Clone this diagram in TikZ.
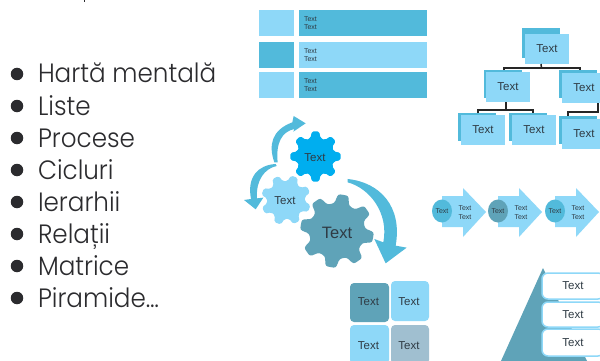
\documentclass[tikz,border=0pt]{standalone}
\usepackage{fontspec}
\setmainfont{Liberation Sans}
\newfontfamily\listfont[UprightFont=* Light,FakeStretch=0.93]{Poppins}
\usetikzlibrary{calc,shapes.geometric}
\definecolor{lightb}{HTML}{8ED8F8}
\definecolor{midb}{HTML}{52BADB}
\definecolor{darkb}{HTML}{5FA3B8}
\definecolor{vivid}{HTML}{00AEEF}
\definecolor{greyb}{HTML}{A0BFD0}
\definecolor{ink}{HTML}{2F3B44}
\definecolor{listink}{HTML}{2B2B2E}
\newcommand{\gearshape}[7]{%
  \begin{scope}[shift={(#1,#2)}]
    \pgfmathsetmacro{\gst}{360/#5}
    \pgfmathtruncatemacro{\glast}{#5-1}
    \fill[rounded corners=1.7pt,#7] (#6-.5*\gst:#4)
      \foreach \i in {0,...,\glast}{
        -- (#6+\i*\gst-.34*\gst:#4)
        -- (#6+\i*\gst-.18*\gst:#3)
        -- (#6+\i*\gst+.18*\gst:#3)
        -- (#6+\i*\gst+.34*\gst:#4)
      } -- cycle;
  \end{scope}}
\tikzset{
  x=1pt,y=-1pt,
  every node/.style={inner sep=0pt,outer sep=0pt,text=ink,font=\fontsize{11.5}{11.5}\selectfont},
  box/.style 2 args={minimum width=#1,minimum height=#2,anchor=north west},
  listlabel/.style={anchor=base west,text=listink,font=\listfont\fontsize{26.5}{26.5}\selectfont},
  bullet/.style={circle,fill=listink,minimum size=12.5pt},
  two/.style={align=left,anchor=west,font=\fontsize{7}{8}\selectfont},
  proc/.style={align=center,font=\fontsize{7}{8.5}\selectfont},
  tie/.style={draw=black!85,line width=1.5pt},
  curve/.style={fill=midb},
  pill/.style={draw=lightb,line width=1.5pt,fill=white,rounded corners=6pt,minimum width=62pt,anchor=north west},
  cell/.style={rounded corners=4pt,minimum width=39pt,anchor=north west},
}
\begin{document}
\begin{tikzpicture}
\useasboundingbox (0,0) rectangle (600,361);
\clip (0,0) rectangle (600,361);
\fill[white] (0,0) rectangle (600,361);
% clipped descender at the top edge
\fill[listink] (84.4,0) rectangle (85.4,1.8);
% bullet list
\foreach \yy/\lab [count=\n] in {74/Hartă mentală,106/Liste,138/Procese,170/Cicluri,202/Ierarhii,234/Relații,266/Matrice,298/Piramide…}{
  \node[bullet] (b\n) at (17,\yy) {};
  \node[listlabel] (t\n) at (38,\yy+9) {\lab};
}
% list blocks
\foreach \yy/\ca/\cb [count=\n] in {10/lightb/midb,42/midb/lightb,72/lightb/midb}{
  \node[box={35pt}{26pt},fill=\ca] (la\n) at (259,\yy) {};
  \node[box={128pt}{26pt},fill=\cb] (lb\n) at (299,\yy) {};
  \node[two] at (304,\yy+13) {Text\\Text};
}
% hierarchy: back plates
\node[box={38pt}{30pt},fill=midb] (r0) at (522,28) {};
\foreach \nm/\xx/\yy in {a/484/70,b/559/70,c/458/113,d/509/113,e/559/116}{
  \node[box={38pt}{28pt},fill=midb] (\nm0) at (\xx,\yy) {};
}
% hierarchy: front plates
\node[box={44pt}{30pt},fill=lightb] (r1) at (525,34) {Text};
\node[box={44pt}{30pt},fill=lightb] (a1) at (486,72) {Text};
\node[box={44pt}{30pt},fill=lightb] (b1) at (562,73) {Text};
\node[box={44pt}{30pt},fill=lightb] (c1) at (461,115) {Text};
\node[box={44pt}{30pt},fill=lightb] (d1) at (512,115) {Text};
\node[box={44pt}{30pt},fill=lightb] (e1) at (562,119) {Text};
% hierarchy connectors
\coordinate (rbar) at (541.5,68);
\draw[tie] (r0.south |- r1.south) -- (rbar);
\draw[tie] ([xshift=1pt]a0.north) |- (rbar) -| ([xshift=2pt]b0.north);
\coordinate (abar) at (506,110);
\draw[tie,line width=1.8pt] (abar |- a1.south) -- (abar);
\draw[tie] ([xshift=1pt]c0.north) |- (abar) -| ([xshift=5pt]d0.north);
\coordinate (ebar) at (598,112);
\draw[tie,line width=2.5pt] (ebar |- b1.south) -- (ebar) -| ([xshift=-10pt]e0.north);
% curved arrows
\begin{scope}[shift={(235,105)},scale=.3333]
  \fill[curve] (118,172) .. controls (100,120) and (110,75) .. (172,52) -- (176,33) -- (212,55) -- (175,80) -- (178,72) .. controls (140,80) and (122,115) .. (128,172) -- cycle;
  \fill[curve] (122,177) .. controls (70,180) and (35,215) .. (48,282) -- (27,285) -- (62,313) -- (85,278) -- (66,280) .. controls (62,225) and (90,190) .. (125,183) -- cycle;
  \fill[curve] (338,222) .. controls (435,232) and (503,305) .. (482,422) -- (515,428) -- (452,475) -- (418,402) -- (445,412) .. controls (462,325) and (405,250) .. (338,232) -- cycle;
\end{scope}
% gears
\gearshape{315.5}{156.5}{25.5}{19}{8}{0}{vivid}
\gearshape{286}{200}{25}{19}{8}{20}{lightb}
\gearshape{337}{231}{37}{28}{8}{10}{darkb,rounded corners=2.4pt}
\node (g1) at (315,157.5) {Text};
\node (g2) at (285,200.5) {Text};
\node[font=\fontsize{16.5}{16.5}\selectfont] (g3) at (337,232.5) {Text};
% process arrows
\foreach \xs/\ct/\cc [count=\n] in {0/442/midb,56/498/darkb,113/555/midb}{
  \fill[lightb] (442+\xs,196) -- (463+\xs,196) -- (463+\xs,188) -- (486+\xs,212) -- (463+\xs,237) -- (463+\xs,227) -- (442+\xs,227) -- cycle;
  \node[ellipse,fill=\cc,minimum width=20pt,minimum height=23pt] (pc\n) at (\ct,211) {};
  \node[proc] (pl\n) at (\ct,211) {Text};
  \node[proc] (pt\n) at (\ct+23,212.5) {Text\\Text};
}
% matrix
\node[cell,fill=darkb,minimum height=39pt] (m1) at (350,283) {};
\node[cell,fill=lightb,minimum width=38pt,minimum height=40pt] (m2) at (391,281) {};
\node[cell,fill=lightb,minimum height=39pt] (m3) at (350,325) {};
\node[cell,fill=greyb,minimum width=38pt,minimum height=39pt] (m4) at (391,325) {};
\node at (368.5,302) {Text};
\node at (409,302) {Text};
\node at (368.5,346) {Text};
\node at (409,346) {Text};
% pyramid
\fill[darkb] (543,268) -- (501,361) -- (587,361) -- cycle;
\node[pill,minimum height=26pt] (p1) at (542,273) {Text};
\node[pill,minimum height=25pt] (p2) at (542,302) {Text};
\node[pill,minimum height=27pt] (p3) at (542,329) {Text};
\end{tikzpicture}
\end{document}
